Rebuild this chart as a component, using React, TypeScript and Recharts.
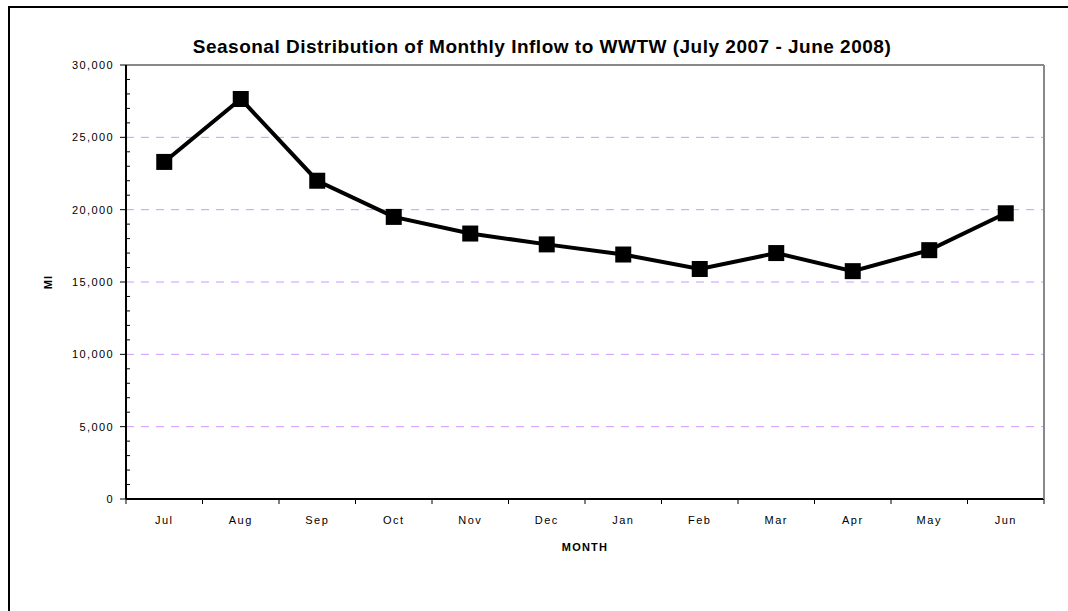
import React from 'react';
import { LineChart, Line, XAxis, YAxis, ReferenceLine } from 'recharts';

const MONTHS = ['Jul', 'Aug', 'Sep', 'Oct', 'Nov', 'Dec', 'Jan', 'Feb', 'Mar', 'Apr', 'May', 'Jun'];
const INFLOW = [23300, 27650, 22000, 19500, 18350, 17600, 16900, 15900, 17000, 15750, 17200, 19750];
const Y_MAJOR_TICKS = [0, 5000, 10000, 15000, 20000, 25000, 30000];
const Y_ALL_TICKS = [
  0, 1000, 2000, 3000, 4000, 5000, 6000, 7000, 8000, 9000, 10000,
  11000, 12000, 13000, 14000, 15000, 16000, 17000, 18000, 19000, 20000,
  21000, 22000, 23000, 24000, 25000, 26000, 27000, 28000, 29000, 30000,
];
const GRID_VALUES = [5000, 10000, 15000, 20000, 25000];
const TITLE = 'Seasonal Distribution of Monthly Inflow to WWTW (July 2007 - June 2008)';
const X_LABEL = 'MONTH';
const Y_LABEL = 'Ml';

const data = MONTHS.map((m, i) => ({ month: m, value: INFLOW[i] }));

const CHART_W = 1058;
const CHART_H = 603;
const RIGHT_AXIS_W = 1;
const MARGIN = { top: 57, right: 24 - RIGHT_AXIS_W, left: 0, bottom: 82 };
const Y_AXIS_W = 116;
const X_AXIS_H = 30;
const PLOT_W = CHART_W - MARGIN.left - MARGIN.right - RIGHT_AXIS_W - Y_AXIS_W;
const HALF_BAND = PLOT_W / MONTHS.length / 2;
const FONT = '"Liberation Sans", Arial, sans-serif';

const fmt = (v: number) => v.toLocaleString('en-US');

function XTick(props: any) {
  const { x, y, payload, index } = props;
  return (
    <g>
      <line x1={x - HALF_BAND} x2={x - HALF_BAND} y1={y} y2={y + 5} stroke="#000" strokeWidth={1} />
      {index === MONTHS.length - 1 && (
        <line x1={x + HALF_BAND} x2={x + HALF_BAND} y1={y} y2={y + 5} stroke="#000" strokeWidth={1} />
      )}
      <text x={x} y={y + 25} textAnchor="middle" fontFamily={FONT} fontSize={11} letterSpacing={1.5} fill="#000">
        {payload.value}
      </text>
    </g>
  );
}

function YTick(props: any) {
  const { x, y, payload } = props;
  const v = payload.value;
  if (Y_MAJOR_TICKS.includes(v)) {
    return (
      <g>
        <line x1={x - 6} x2={x} y1={y} y2={y} stroke="#000" strokeWidth={1} />
        <text x={x - 12} y={y + 4} textAnchor="end" fontFamily={FONT} fontSize={11} letterSpacing={1.4} fill="#000">
          {fmt(v)}
        </text>
      </g>
    );
  }
  return <line x1={x} x2={x + 4} y1={y} y2={y} stroke="#000" strokeWidth={1} />;
}

function XLabel(props: any) {
  const vb = props.viewBox || { x: 0, y: 0, width: 0, height: 0 };
  return (
    <text x={vb.x + vb.width / 2} y={vb.y + 52} textAnchor="middle" fontFamily={FONT} fontSize={11}
      fontWeight="bold" letterSpacing={1.2} fill="#000">
      {X_LABEL}
    </text>
  );
}

function YLabel(props: any) {
  const vb = props.viewBox || { x: 0, y: 0, width: 0, height: 0 };
  const cx = vb.x + 38;
  const cy = vb.y + vb.height / 2;
  return (
    <text x={cx} y={cy} transform={`rotate(-90, ${cx}, ${cy})`} textAnchor="middle" dominantBaseline="central"
      fontFamily={FONT} fontSize={11} fontWeight="bold" letterSpacing={1} fill="#000">
      {Y_LABEL}
    </text>
  );
}

function SquareDot(props: any) {
  const { cx, cy } = props;
  if (cx == null || cy == null) return null;
  return <rect x={cx - 8} y={cy - 8} width={16} height={16} fill="#000" stroke="none" />;
}

export default function App() {
  return (
    <div
      style={{
        position: 'absolute',
        left: 8,
        top: 6,
        width: 1060,
        height: 605,
        boxSizing: 'border-box',
        borderTop: '2px solid #000',
        borderLeft: '2px solid #000',
        background: '#fff',
      }}
    >
      <div
        style={{
          position: 'absolute',
          left: 0,
          top: 29,
          width: 1064,
          textAlign: 'center',
          whiteSpace: 'nowrap',
          fontFamily: FONT,
          fontWeight: 'bold',
          fontSize: 19,
          lineHeight: '19px',
          letterSpacing: 0.5,
          color: '#000',
        }}
      >
        {TITLE}
      </div>
      <LineChart width={CHART_W} height={CHART_H} data={data} margin={MARGIN}>
        <XAxis
          dataKey="month"
          padding={{ left: HALF_BAND, right: HALF_BAND }}
          height={X_AXIS_H}
          tickSize={0}
          tickMargin={0}
          tickLine={false}
          interval={0}
          axisLine={{ stroke: '#000', strokeWidth: 2 }}
          tick={<XTick />}
          label={<XLabel />}
        />
        <YAxis
          yAxisId="left"
          width={Y_AXIS_W}
          domain={[0, 30000]}
          ticks={Y_ALL_TICKS}
          interval={0}
          tickSize={0}
          tickMargin={0}
          tickLine={false}
          axisLine={{ stroke: '#000', strokeWidth: 2 }}
          tick={<YTick />}
          label={<YLabel />}
        />
        <YAxis
          yAxisId="right"
          orientation="right"
          width={RIGHT_AXIS_W}
          domain={[0, 30000]}
          tick={false}
          tickLine={false}
          axisLine={{ stroke: '#888', strokeWidth: 2 }}
        />
        {GRID_VALUES.map((v) => (
          <ReferenceLine key={v} yAxisId="left" y={v} stroke="#cc99ff" strokeWidth={1} strokeDasharray="8 7" />
        ))}
        <ReferenceLine yAxisId="left" y={30000} stroke="#888" strokeWidth={2} />
        <Line
          yAxisId="left"
          type="linear"
          dataKey="value"
          stroke="#000"
          strokeWidth={4}
          dot={<SquareDot />}
          activeDot={false}
          isAnimationActive={false}
        />
      </LineChart>
    </div>
  );
}
